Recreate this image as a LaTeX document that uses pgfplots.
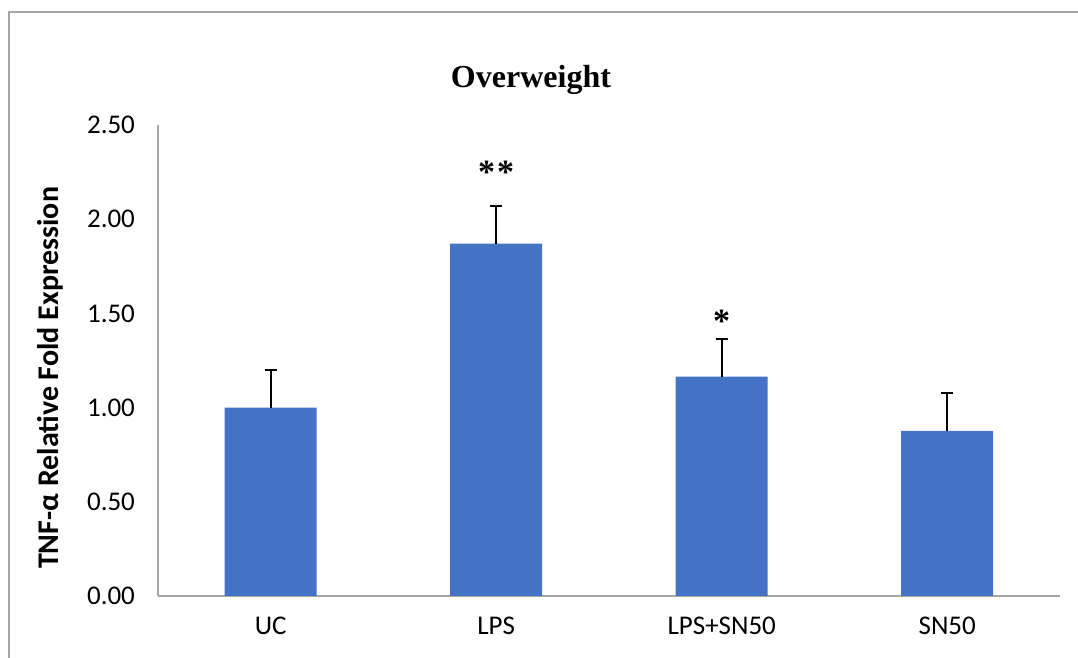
\documentclass[border=0pt]{standalone}
\usepackage{pgfplots}
\pgfplotsset{compat=1.18}
\usepackage{fontspec}
\setmainfont{Carlito}
\newfontfamily\titlefont{Liberation Serif}
\definecolor{barblue}{HTML}{4472C4}
\definecolor{framegray}{HTML}{A6A6A6}
\begin{document}
\begin{tikzpicture}
\useasboundingbox (0,0) rectangle (539pt,329pt);
% outer frame (top and left edges visible)
\draw[framegray, line width=0.8pt] (4.5pt,0) -- (4.5pt,323pt) -- (539pt,323pt);
\begin{axis}[
  at={(79pt,31pt)}, anchor=south west,
  scale only axis, width=451pt, height=235.5pt,
  xmin=-0.5, xmax=3.5, ymin=0, ymax=2.5,
  axis x line*=bottom, axis y line*=left,
  axis line style={framegray, line width=0.6pt},
  xtick={0,1,2,3}, xticklabels={UC,LPS,LPS+SN50,SN50},
  ytick={0,0.5,1,1.5,2,2.5},
  major tick length=0pt,
  yticklabel style={/pgf/number format/fixed, /pgf/number format/fixed zerofill, /pgf/number format/precision=2, /pgf/number format/assume math mode=true, font=\fontsize{13.5}{16}\selectfont, xshift=-8pt},
  xticklabel style={font=\fontsize{13.5}{16}\selectfont, yshift=-7pt},
  ylabel={\bfseries TNF-α Relative Fold Expression},
  ylabel style={font=\fontsize{15}{18}\selectfont, at={(axis description cs:-0.1197,0.463)}, anchor=center},
  title={\titlefont\bfseries Overweight},
  title style={font=\fontsize{16}{19}\selectfont, at={(axis description cs:0.4135,1.070)}, anchor=center},
  clip=false,
]
\addplot[ybar, bar width=46pt, fill=barblue, draw=none,
  error bars/.cd, y dir=plus, y explicit,
  error bar style={black, line width=0.8pt},
  error mark options={rotate=90, mark size=3pt, black, line width=0.8pt}]
  coordinates {(0,1.00) +- (0,0.20) (1,1.87) +- (0,0.20) (2,1.165) +- (0,0.20) (3,0.877) +- (0,0.20)};
\node[font=\titlefont\bfseries\fontsize{17}{20}\selectfont] at (axis cs:1,2.248) {*\kern1pt*};
\node[font=\titlefont\bfseries\fontsize{17}{20}\selectfont] at (axis cs:2,1.457) {*};
\end{axis}
\end{tikzpicture}
\end{document}
